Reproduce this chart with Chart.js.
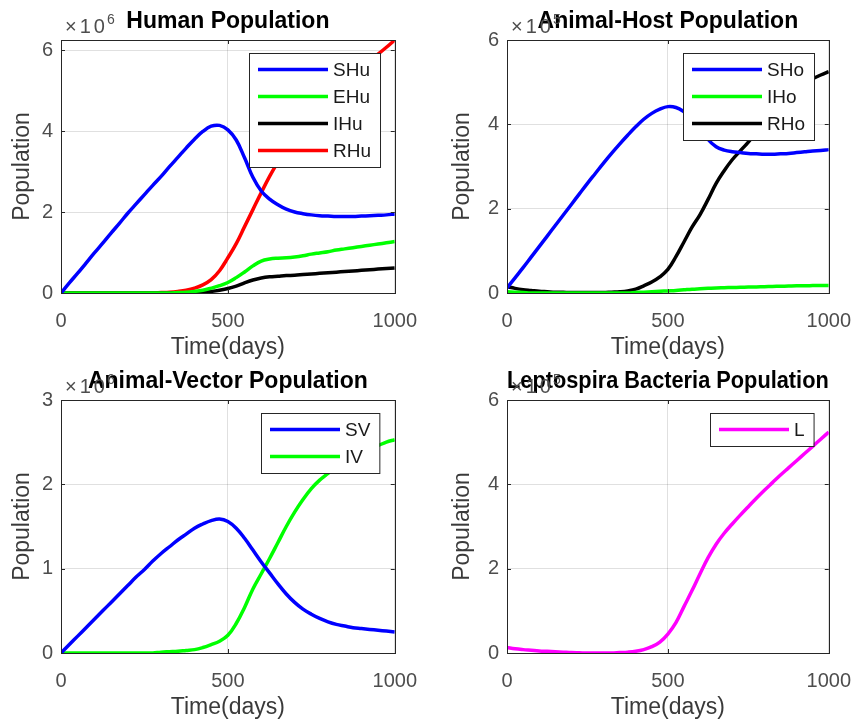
<!DOCTYPE html>
<html>
<head>
<meta charset="utf-8">
<title>Leptospirosis Population Model</title>
<script src="https://cdn.jsdelivr.net/npm/chart.js@4.4.1/dist/chart.umd.min.js"></script>
<style>
  body { margin: 0; background: #fff; }
  #wrap { position: relative; width: 867px; height: 725px; }
  canvas { position: absolute; }
</style>
</head>
<body>
<div id="wrap">
  <canvas id="humanChart" width="433" height="360" style="left:0;top:0"></canvas>
  <canvas id="hostChart" width="434" height="360" style="left:433px;top:0"></canvas>
  <canvas id="vectorChart" width="433" height="360" style="left:0;top:360px"></canvas>
  <canvas id="bacteriaChart" width="434" height="360" style="left:433px;top:360px"></canvas>
</div>
<script>
// time points (days) shared by every series
const days = [0, 25, 50, 75, 100, 125, 150, 175, 200, 225, 250, 275, 300, 325, 350, 375, 400, 425, 450, 475, 500,
  525, 550, 575, 600, 625, 650, 675, 700, 725, 750, 775, 800, 825, 850, 875, 900, 925, 950, 975, 1000];

// tick labels
const dayTicks = [0, 500, 1000];
const popTicks = [0, 2, 4, 6];
const vectorTicks = [0, 1, 2, 3];

// Human population (x10^6)
const SHu = [0, 0.25, 0.49, 0.74, 0.99, 1.23, 1.48, 1.72, 1.97, 2.2, 2.43, 2.66, 2.88, 3.12, 3.35, 3.58, 3.8, 3.99, 4.12, 4.14, 4.03,
  3.78, 3.34, 2.86, 2.52, 2.32, 2.18, 2.07, 2.0, 1.96, 1.93, 1.91, 1.9, 1.89, 1.89, 1.89, 1.9, 1.91, 1.92, 1.93, 1.95];
const EHu = [0, 0, 0, 0, 0, 0, 0, 0, 0, 0, 0, 0, 0, 0, 0.01, 0.02, 0.04, 0.07, 0.12, 0.18, 0.26,
  0.38, 0.52, 0.67, 0.79, 0.84, 0.86, 0.87, 0.89, 0.92, 0.96, 0.99, 1.02, 1.06, 1.09, 1.12, 1.15, 1.18, 1.21, 1.24, 1.27];
const IHu = [0, 0, 0, 0, 0, 0, 0, 0, 0, 0, 0, 0, 0, 0, 0, 0, 0.01, 0.02, 0.04, 0.07, 0.11,
  0.17, 0.25, 0.32, 0.37, 0.4, 0.415, 0.43, 0.44, 0.455, 0.47, 0.485, 0.5, 0.515, 0.53, 0.545, 0.56, 0.575, 0.59, 0.605, 0.62];
const RHu = [0, 0, 0, 0, 0, 0, 0, 0, 0, 0, 0, 0, 0.01, 0.02, 0.04, 0.07, 0.12, 0.2, 0.33, 0.55, 0.87,
  1.22, 1.64, 2.06, 2.48, 2.88, 3.24, 3.58, 3.88, 4.16, 4.42, 4.66, 4.88, 5.07, 5.25, 5.42, 5.58, 5.74, 5.9, 6.07, 6.25];

// Animal-host population (x10^5)
const SHo = [0.12, 0.36, 0.6, 0.85, 1.1, 1.35, 1.6, 1.85, 2.1, 2.35, 2.6, 2.84, 3.08, 3.31, 3.53, 3.74, 3.94, 4.12, 4.26, 4.36, 4.42,
  4.4, 4.3, 4.15, 3.95, 3.64, 3.47, 3.39, 3.35, 3.33, 3.31, 3.3, 3.29, 3.29, 3.3, 3.31, 3.33, 3.35, 3.37, 3.38, 3.4];
const IHo = [0.03, 0.02, 0.01, 0, 0, 0, 0, 0, 0, 0, 0, 0, 0, 0, 0, 0, 0.01, 0.02, 0.03, 0.04, 0.05,
  0.06, 0.075, 0.09, 0.1, 0.11, 0.12, 0.125, 0.13, 0.135, 0.14, 0.145, 0.15, 0.155, 0.16, 0.165, 0.17, 0.17, 0.175, 0.18, 0.18];
const RHo = [0.15, 0.11, 0.08, 0.06, 0.04, 0.03, 0.02, 0.015, 0.01, 0.01, 0.01, 0.01, 0.01, 0.02, 0.03, 0.05, 0.09, 0.17, 0.26, 0.38, 0.56,
  0.86, 1.21, 1.56, 1.86, 2.22, 2.6, 2.9, 3.16, 3.37, 3.58, 3.82, 4.05, 4.28, 4.5, 4.68, 4.85, 4.97, 5.08, 5.17, 5.25];

// Animal-vector population (x10^6)
const SV = [0, 0.1, 0.2, 0.3, 0.4, 0.5, 0.6, 0.7, 0.8, 0.9, 0.99, 1.09, 1.18, 1.26, 1.34, 1.41, 1.48, 1.53, 1.57, 1.59, 1.56,
  1.48, 1.36, 1.22, 1.08, 0.95, 0.82, 0.7, 0.6, 0.52, 0.46, 0.41, 0.37, 0.34, 0.32, 0.3, 0.29, 0.28, 0.27, 0.26, 0.25];
const IV = [0, 0, 0, 0, 0, 0, 0, 0, 0, 0, 0, 0, 0.01, 0.015, 0.02, 0.03, 0.04, 0.065, 0.1, 0.14, 0.21,
  0.35, 0.54, 0.76, 0.94, 1.12, 1.31, 1.5, 1.67, 1.82, 1.95, 2.05, 2.13, 2.21, 2.27, 2.33, 2.38, 2.42, 2.46, 2.5, 2.53];

// Leptospira bacteria population (x10^5)
const L = [0.13, 0.1, 0.08, 0.065, 0.05, 0.04, 0.03, 0.02, 0.01, 0.005, 0, 0, 0, 0, 0.01, 0.02, 0.04, 0.08, 0.15, 0.26, 0.45,
  0.72, 1.1, 1.48, 1.88, 2.26, 2.58, 2.84, 3.06, 3.27, 3.47, 3.67, 3.86, 4.04, 4.22, 4.39, 4.56, 4.73, 4.9, 5.07, 5.24];

const FONT = "'Liberation Sans', Arial, sans-serif";
const AXIS_COLOR = '#262626';

// box around the axes with small inward ticks (MATLAB style)
const boxPlugin = {
  id: 'axesBox',
  afterDatasetsDraw(chart) {
    const { ctx, chartArea: a, scales } = chart;
    ctx.save();
    ctx.strokeStyle = AXIS_COLOR;
    ctx.lineWidth = 1;
    ctx.strokeRect(Math.round(a.left) + 0.5, Math.round(a.top) + 0.5, Math.round(a.right - a.left), Math.round(a.bottom - a.top));
    ctx.beginPath();
    scales.x.ticks.forEach(t => {
      const x = Math.round(scales.x.getPixelForValue(t.value)) + 0.5;
      ctx.moveTo(x, a.bottom); ctx.lineTo(x, a.bottom - 4);
      ctx.moveTo(x, a.top); ctx.lineTo(x, a.top + 4);
    });
    scales.y.ticks.forEach(t => {
      const y = Math.round(scales.y.getPixelForValue(t.value)) + 0.5;
      ctx.moveTo(a.left, y); ctx.lineTo(a.left + 4, y);
      ctx.moveTo(a.right, y); ctx.lineTo(a.right - 4, y);
    });
    ctx.stroke();
    ctx.restore();
  }
};

// legend box in the upper right corner of the axes
const legendPlugin = {
  id: 'boxLegend',
  afterDraw(chart) {
    const { ctx, chartArea: a } = chart;
    const sets = chart.data.datasets;
    ctx.save();
    ctx.font = '19px ' + FONT;
    let textW = 0;
    sets.forEach(d => { textW = Math.max(textW, ctx.measureText(d.label).width); });
    const rowH = 27;
    const w = 9 + 70 + 5 + textW + 9;
    const h = sets.length * rowH + 6;
    const x = Math.round(a.right - 15 - w);
    const y = Math.round(a.top + 13);
    ctx.fillStyle = '#fff';
    ctx.fillRect(x, y, w, h);
    ctx.strokeStyle = AXIS_COLOR;
    ctx.lineWidth = 1;
    ctx.strokeRect(x + 0.5, y + 0.5, w, h);
    sets.forEach((d, i) => {
      const cy = y + 3 + rowH / 2 + i * rowH;
      ctx.strokeStyle = d.borderColor;
      ctx.lineWidth = 3.5;
      ctx.beginPath();
      ctx.moveTo(x + 9, cy);
      ctx.lineTo(x + 79, cy);
      ctx.stroke();
      ctx.fillStyle = '#1a1a1a';
      ctx.textBaseline = 'middle';
      ctx.fillText(d.label, x + 84, cy + 1);
    });
    ctx.restore();
  }
};

function makeChart(id, title, power, series, yMax, yTicks, yAxisWidth, rightPad, yTitlePad) {
  const ctx = document.getElementById(id).getContext('2d');

  // "x10^n" multiplier written above the y axis
  const exponentPlugin = {
    id: 'exponent',
    afterDraw(chart) {
      const c = chart.ctx;
      const a = chart.chartArea;
      c.save();
      c.fillStyle = '#4d4d4d';
      c.textBaseline = 'alphabetic';
      c.font = '20px ' + FONT;
      c.letterSpacing = '3px';
      c.fillText('\u00d710', a.left + 4, a.top - 7);
      const w = c.measureText('\u00d710').width;
      c.letterSpacing = '0px';
      c.font = '14px ' + FONT;
      c.fillText(String(power), a.left + 3 + w, a.top - 16);
      c.restore();
    }
  };

  return new Chart(ctx, {
    type: 'line',
    data: {
      datasets: series.map(s => ({
        label: s.label,
        data: days.map((t, i) => ({ x: t, y: s.values[i] })),
        borderColor: s.color,
        borderWidth: 3.5,
        pointRadius: 0,
        fill: false,
        tension: 0.4
      }))
    },
    options: {
      responsive: false,
      animation: false,
      layout: { padding: { top: 0, right: rightPad, left: 0, bottom: 0 } },
      plugins: {
        legend: { display: false },
        tooltip: { enabled: false },
        title: {
          display: true,
          text: title,
          fullSize: false,
          color: '#000',
          font: { family: FONT, size: 23, weight: 'bold', lineHeight: 1.2 },
          padding: { top: 8, bottom: 4.4 }
        }
      },
      scales: {
        x: {
          type: 'linear',
          min: 0,
          max: 1000,
          afterBuildTicks: s => { s.ticks = dayTicks.map(v => ({ value: v })); },
          afterFit: s => { s.height = 67; },
          grid: { color: 'rgba(0,0,0,0.12)', drawTicks: false },
          border: { display: false },
          ticks: { font: { family: FONT, size: 20 }, color: '#4d4d4d', padding: 16, maxRotation: 0, callback: v => String(v) },
          title: { display: true, text: 'Time(days)', color: '#3a3a3a', font: { family: FONT, size: 23, lineHeight: 1 }, padding: { top: 0, bottom: 0.5 } }
        },
        y: {
          type: 'linear',
          min: 0,
          max: yMax,
          afterBuildTicks: s => { s.ticks = yTicks.map(v => ({ value: v })); },
          afterFit: s => { s.width = yAxisWidth; },
          grid: { color: 'rgba(0,0,0,0.12)', drawTicks: false },
          border: { display: false },
          ticks: { font: { family: FONT, size: 20 }, color: '#4d4d4d', padding: 8, callback: v => String(v) },
          title: { display: true, text: 'Population', color: '#3a3a3a', font: { family: FONT, size: 23, lineHeight: 1 }, padding: { top: yTitlePad, bottom: 0 } }
        }
      }
    },
    plugins: [boxPlugin, legendPlugin, exponentPlugin]
  });
}

makeChart('humanChart', 'Human Population', 6, [
  { label: 'SHu', values: SHu, color: '#0000ff' },
  { label: 'EHu', values: EHu, color: '#00ff00' },
  { label: 'IHu', values: IHu, color: '#000000' },
  { label: 'RHu', values: RHu, color: '#ff0000' }
], 6.25, popTicks, 61, 38, 11.5);

makeChart('hostChart', 'Animal-Host Population', 5, [
  { label: 'SHo', values: SHo, color: '#0000ff' },
  { label: 'IHo', values: IHo, color: '#00ff00' },
  { label: 'RHo', values: RHo, color: '#000000' }
], 6, popTicks, 74, 27, 18.5);

makeChart('vectorChart', 'Animal-Vector Population', 6, [
  { label: 'SV', values: SV, color: '#0000ff' },
  { label: 'IV', values: IV, color: '#00ff00' }
], 3, vectorTicks, 61, 38, 11.5);

makeChart('bacteriaChart', 'Leptospira Bacteria Population', 5, [
  { label: 'L', values: L, color: '#ff00ff' }
], 6, popTicks, 74, 27, 18.5);
</script>
</body>
</html>
